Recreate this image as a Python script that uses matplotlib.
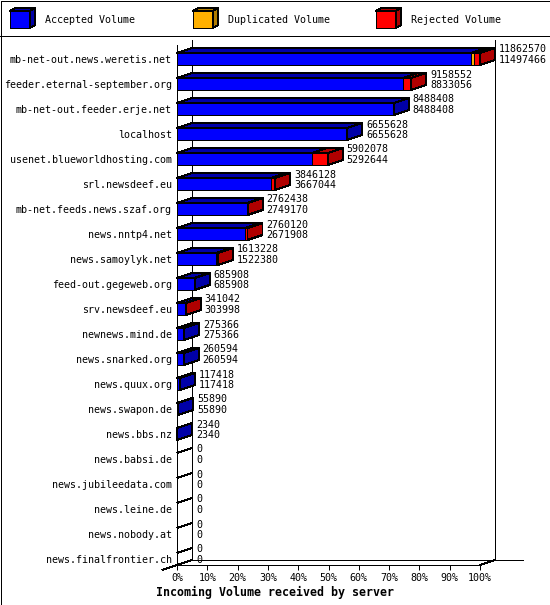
import matplotlib
matplotlib.use("Agg")
import matplotlib.pyplot as plt
from matplotlib.patches import Polygon, Rectangle
import numpy as np

# values (bytes per server)
servers = [
    "mb-net-out.news.weretis.net", "feeder.eternal-september.org",
    "mb-net-out.feeder.erje.net", "localhost", "usenet.blueworldhosting.com",
    "srl.newsdeef.eu", "mb-net.feeds.news.szaf.org", "news.nntp4.net",
    "news.samoylyk.net", "feed-out.gegeweb.org", "srv.newsdeef.eu",
    "newnews.mind.de", "news.snarked.org", "news.quux.org", "news.swapon.de",
    "news.bbs.nz", "news.babsi.de", "news.jubileedata.com", "news.leine.de",
    "news.nobody.at", "news.finalfrontier.ch",
]
accepted = [11497466, 8833056, 8488408, 6655628, 5292644, 3667044, 2749170,
            2671908, 1522380, 685908, 303998, 275366, 260594, 117418, 55890,
            2340, 0, 0, 0, 0, 0]
duplicated = [130000, 0, 0, 0, 0, 0, 0, 0, 0, 0, 0, 0, 0, 0, 0, 0, 0, 0, 0, 0, 0]
rejected = [235104, 325496, 0, 0, 609434, 179084, 13268, 88212, 90848, 0,
            37044, 0, 0, 0, 0, 0, 0, 0, 0, 0, 0]
series_names = ["Accepted Volume", "Duplicated Volume", "Rejected Volume"]
pct_ticks = [0, 10, 20, 30, 40, 50, 60, 70, 80, 90, 100]

front_colors = ["#0000ff", "#ffb000", "#ff0000"]
shade_colors = ["#0000a8", "#b07c00", "#b00000"]

W, H = 550, 605
DX, DY = 15, 5      # depth of the 3d look, in pixels
HALF = 0.24         # half height of a bar front, in category units
LW = 0.72           # one pixel

plt.rcParams["font.family"] = ["DejaVu Sans Mono"]
plt.rcParams["font.size"] = 7.2

fig = plt.figure(figsize=(W / 100, H / 100), dpi=100)
fig.patch.set_facecolor("white")

# pixel canvas for frame, legend and title
lg = fig.add_axes([0, 0, 1, 1], zorder=-1)
lg.set_xlim(0, W)
lg.set_ylim(H, 0)
lg.axis("off")

ax = fig.add_axes([177 / W, 40 / H, 303 / W, 525 / H])
ax.patch.set_visible(False)
n = len(servers)
series = np.array([accepted, duplicated, rejected])
totals = series.sum(axis=0)
vmax = totals.max()
floor = n - 1 + HALF
top = -0.56
ax.set_xlim(0, vmax)
ax.set_ylim(floor, -0.76)
ax.set_autoscale_on(False)


def back(pts):
    pts = np.atleast_2d(np.asarray(pts, float))
    disp = ax.transData.transform(pts) + [DX, DY]
    return ax.transData.inverted().transform(disp)


def face(pts, color, z=3):
    ax.add_patch(Polygon(pts, closed=True, facecolor=color, edgecolor="black",
                         lw=LW, clip_on=False, antialiased=False, zorder=z))


def line(p, q, z=1):
    p, q = np.atleast_2d(p)[0], np.atleast_2d(q)[0]
    ax.plot([p[0], q[0]], [p[1], q[1]], color="black", lw=LW,
            clip_on=False, antialiased=False, zorder=z, solid_capstyle="butt")


# frame of the 3d plot
line((0, top), (0, floor))
line(back((0, top)), back((0, floor)))
line(back((vmax, top)), back((vmax, floor)))
line((0, floor), (vmax, floor))
line((vmax, floor), back((vmax, floor)))
line(back((0, floor)), back((vmax * 1.092, floor)))
left_front = ax.transData.inverted().transform(ax.transData.transform((0, floor)) - [DX, DY])
line(left_front, back((0, floor)))

# bars
for i in range(n):
    y0, y1 = i - HALF, i + HALF
    if totals[i] == 0:
        line((0, y0), back((0, y0)), z=2)
    else:
        left = 0
        last = 0
        for k in range(3):
            v = series[k][i]
            if v <= 0:
                continue
            right = left + v
            face([(left, y0), (right, y0), (right, y1), (left, y1)], front_colors[k])
            face([(left, y0), (right, y0), back((right, y0))[0], back((left, y0))[0]],
                 shade_colors[k])
            left = right
            last = k
        t = totals[i]
        face([(t, y0), (t, y1), back((t, y1))[0], back((t, y0))[0]], shade_colors[last])
    ax.annotate(str(totals[i]), xy=(totals[i], i), xytext=(19, 9.5),
                textcoords="offset pixels", va="center", ha="left",
                annotation_clip=False)
    ax.annotate(str(accepted[i]), xy=(totals[i], i), xytext=(19, -1),
                textcoords="offset pixels", va="center", ha="left",
                annotation_clip=False)

# axes ticks
for s in ax.spines.values():
    s.set_visible(False)
ax.set_xticks([p / 100 * vmax for p in pct_ticks])
ax.set_xticklabels([f"{p}%" for p in pct_ticks])
ax.tick_params(axis="x", direction="out", length=3.6, width=LW, pad=2)
ax.set_yticks(range(n))
ax.set_yticklabels(servers)
ax.tick_params(axis="y", length=0, pad=3.6)

# legend strip
lg.add_patch(Rectangle((0.5, 0.5), W - 1, H - 1, fill=False, lw=LW,
                       edgecolor="black", antialiased=False))
lg.plot([0, W], [36, 36], color="black", lw=LW, antialiased=False)
for k, name in enumerate(series_names):
    x0 = 10 + 183 * k
    lg.add_patch(Polygon([(x0, 11), (x0 + 20, 11), (x0 + 20, 28), (x0, 28)],
                         facecolor=front_colors[k], edgecolor="black", lw=LW,
                         antialiased=False))
    lg.add_patch(Polygon([(x0, 11), (x0 + 20, 11), (x0 + 25, 8), (x0 + 5, 8)],
                         facecolor=shade_colors[k], edgecolor="black", lw=LW,
                         antialiased=False))
    lg.add_patch(Polygon([(x0 + 20, 11), (x0 + 25, 8), (x0 + 25, 25), (x0 + 20, 28)],
                         facecolor=shade_colors[k], edgecolor="black", lw=LW,
                         antialiased=False))
    lg.text(x0 + 35, 20, name, va="center", ha="left")

lg.text(156, 592, "Incoming Volume received by server", va="center", ha="left",
        fontsize=8.4, fontweight="bold")

fig.savefig("out.png", dpi=100)
